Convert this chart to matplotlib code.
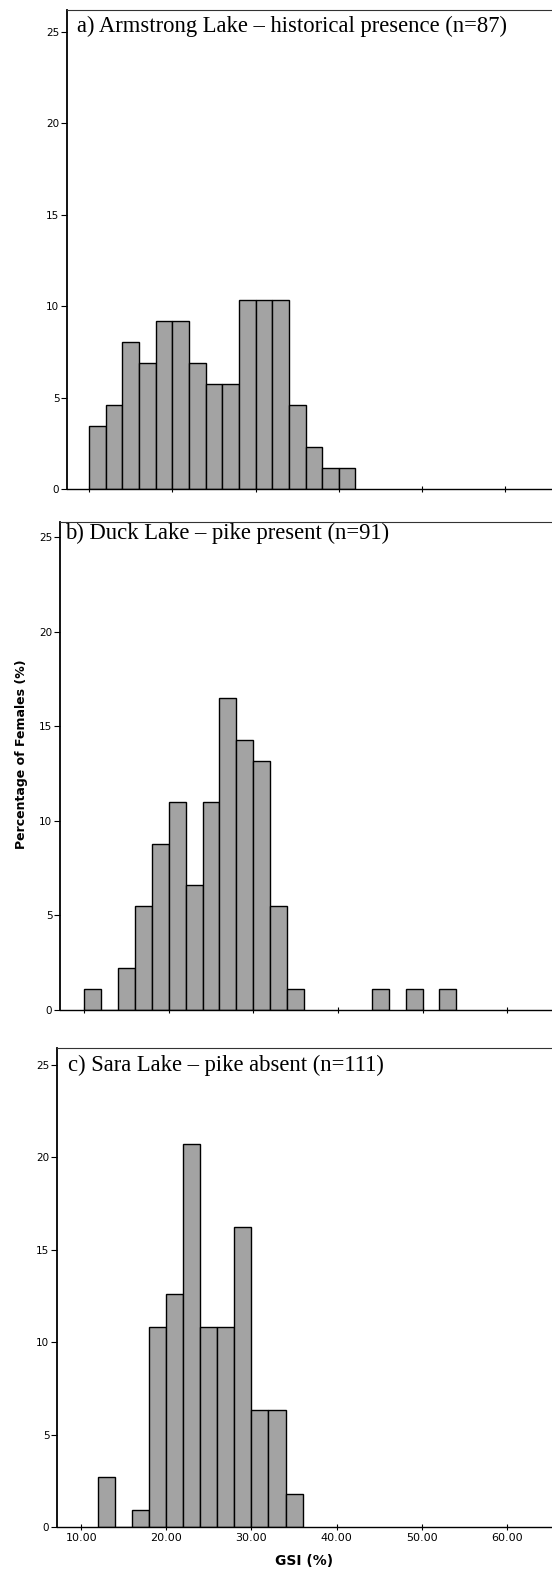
import matplotlib
matplotlib.use("Agg")
import matplotlib.pyplot as plt

# ---- data (percentage of females per 2-unit GSI bin) ----
bin_width = 2
a_bins = [10, 12, 14, 16, 18, 20, 22, 24, 26, 28, 30, 32, 34, 36, 38, 40]
a_pct = [3.45, 4.60, 8.05, 6.90, 9.20, 9.20, 6.90, 5.75, 5.75, 10.34, 10.34, 10.34, 4.60, 2.30, 1.15, 1.15]

b_bins = [10, 12, 14, 16, 18, 20, 22, 24, 26, 28, 30, 32, 34, 44, 48, 52]
b_pct = [1.10, 0.0, 2.20, 5.49, 8.79, 10.99, 6.59, 10.99, 16.48, 14.29, 13.19, 5.49, 1.10, 1.10, 1.10, 1.10]

c_bins = [12, 14, 16, 18, 20, 22, 24, 26, 28, 30, 32, 34]
c_pct = [2.70, 0.0, 0.90, 10.81, 12.61, 20.72, 10.81, 10.81, 16.22, 6.31, 6.31, 1.80]

titles = ["a) Armstrong Lake \u2013 historical presence (n=87)",
          "b) Duck Lake \u2013 pike present (n=91)",
          "c) Sara Lake \u2013 pike absent (n=111)"]
x_ticks = [10, 20, 30, 40, 50, 60]
x_ticklabels = ["10.00", "20.00", "30.00", "40.00", "50.00", "60.00"]
y_ticks = [0, 5, 10, 15, 20, 25]
x_label = "GSI (%)"
y_label = "Percentage of Females (%)"

W, H = 552, 1580
fig = plt.figure(figsize=(W / 100, H / 100), dpi=100)

# panel geometry in pixels: left, top, bottom ; xlim ; ylim top ; title pos
panels = [
    dict(left=67, top=10, bottom=489, xlim=(7.36, 65.6), ytop=26.2, tx=0.021, ty=0.966,
         bins=a_bins, pct=a_pct),
    dict(left=60, top=522, bottom=1010, xlim=(7.16, 65.3), ytop=25.8, tx=0.010, ty=0.977,
         bins=b_bins, pct=b_pct),
    dict(left=57, top=1048, bottom=1527, xlim=(7.16, 65.3), ytop=25.9, tx=0.022, ty=0.964,
         bins=c_bins, pct=c_pct),
]

axes = []
for i, p in enumerate(panels):
    ax = fig.add_axes([p["left"] / W, 1 - p["bottom"] / H,
                       (W - p["left"]) / W, (p["bottom"] - p["top"]) / H])
    ax.bar(p["bins"], p["pct"], width=bin_width, align="edge",
           color="#a3a3a3", edgecolor="black", linewidth=1.0, zorder=2)
    ax.set_xlim(*p["xlim"])
    ax.set_ylim(0, p["ytop"])
    ax.set_yticks(y_ticks)
    ax.set_xticks(x_ticks)
    if i == 2:
        ax.set_xticklabels(x_ticklabels, fontsize=8, family="DejaVu Sans")
        ax.set_xlabel(x_label, fontsize=10, fontweight="bold", labelpad=8)
    else:
        ax.set_xticklabels([])
    ax.tick_params(axis="y", labelsize=7.5, length=4, width=0.8, pad=1.5, direction="out")
    ax.tick_params(axis="x", length=5, width=0.8, pad=2, direction="inout")
    ax.spines["right"].set_visible(False)
    ax.spines["left"].set_linewidth(1.3)
    ax.spines["bottom"].set_linewidth(1.0)
    ax.spines["top"].set_linestyle((0, (1, 1)))
    ax.spines["top"].set_linewidth(0.8)
    ax.spines["top"].set_color("#333333")
    ax.text(p["tx"], p["ty"], titles[i], transform=ax.transAxes, ha="left", va="center",
            fontsize=16.3, family="Liberation Serif", color="black")
    axes.append(ax)

fig.text(22 / W, 1 - 754 / H, y_label, rotation=90, ha="center", va="center",
         fontsize=9, fontweight="bold")

fig.savefig("out.png", dpi=100)
